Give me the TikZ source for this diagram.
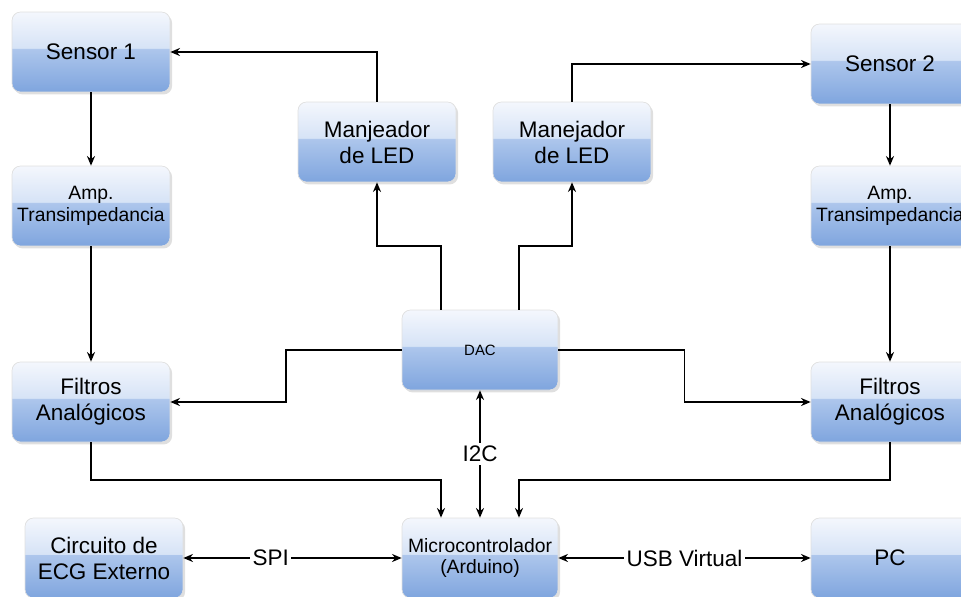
\documentclass[tikz,border=0pt]{standalone}
\usepackage{fontspec}
\setmainfont{Liberation Sans}
\usetikzlibrary{arrows.meta,calc,shadows}
\definecolor{glossTop}{HTML}{F4F7FD}
\definecolor{glossMidA}{HTML}{D6E3F6}
\definecolor{glossMidB}{HTML}{ADC6EC}
\definecolor{glossBot}{HTML}{7FA5DE}
\pgfdeclareverticalshading{gloss}{100bp}{color(0bp)=(glossBot); color(25bp)=(glossBot); color(52bp)=(glossMidB); color(52.5bp)=(glossMidA); color(75bp)=(glossTop); color(100bp)=(glossTop)}
\tikzset{
  block/.style={draw=black!12,line width=0.4pt,rectangle,rounded corners=0.17cm,shading=gloss,
    minimum width=3.16cm,minimum height=1.6cm,align=center,inner sep=1pt,
    drop shadow={shadow xshift=1.2pt,shadow yshift=-1.4pt,opacity=0.25},
    font=\fontsize{12.8}{14.8}\selectfont},
  smalltext/.style={font=\fontsize{11}{12.5}\selectfont},
  dactext/.style={font=\fontsize{8.5}{10}\selectfont},
  lbl/.style={fill=white,inner sep=1.5pt,font=\fontsize{12.8}{14.8}\selectfont}
}

\begin{document}
\begin{tikzpicture}[x=0.02cm,y=-0.02cm,>={Stealth[length=5.5pt,width=4.6pt]},line width=0.75pt]
  \clip (0,0) rectangle (961,596);

  \node[block] (s1) at (91,52) {Sensor 1};
  \node[block] (ledL) at (377,142) {Manjeador\\de LED};
  \node[block] (ledR) at (572,142) {Manejador\\de LED};
  \node[block] (s2) at (890,64) {Sensor 2};
  \node[block,smalltext] (ampL) at (91,206) {Amp.\\Transimpedancia};
  \node[block,smalltext] (ampR) at (890,206) {Amp.\\Transimpedancia};
  \node[block] (fL) at (91,402) {Filtros\\Analógicos};
  \node[block,dactext,minimum width=3.12cm] (dac) at (480,350) {DAC};
  \node[block] (fR) at (890,402) {Filtros\\Analógicos};
  \node[block] (ecg) at (104,558) {Circuito de\\ECG Externo};
  \node[block,smalltext,minimum width=3.12cm] (mcu) at (480,558) {Microcontrolador\\(Arduino)};
  \node[block] (pc) at (890,558) {PC};

  \coordinate (dacNL) at ($(dac.north)+(-39,0)$);
  \coordinate (dacNR) at ($(dac.north)+(39,0)$);
  \coordinate (mcuNL) at ($(mcu.north)+(-39,0)$);
  \coordinate (mcuNR) at ($(mcu.north)+(39,0)$);

  \draw[->] (ledL.north) |- (s1.east);
  \draw[->] (ledR.north) |- (s2.west);
  \draw[->] (s1.south) -- (ampL.north);
  \draw[->] (ampL.south) -- (fL.north);
  \draw[->] (s2.south) -- (ampR.north);
  \draw[->] (ampR.south) -- (fR.north);

  \draw[->] (dacNL) |- ($(dac.north)!0.5!(ledL.south)$) -| (ledL.south);
  \draw[->] (dacNR) |- ($(dac.north)!0.5!(ledR.south)$) -| (ledR.south);
  \draw[->] (dac.west) -| ($(dac.west)!0.5!(fL.east)$) |- (fL.east);
  \draw[->] (dac.east) -| ($(dac.east)!0.5!(fR.west)$) |- (fR.west);

  \draw[->] (fL.south) |- ($(fL.south)!0.5!(mcu.north)$) -| (mcuNL);
  \draw[->] (fR.south) |- ($(fR.south)!0.5!(mcu.north)$) -| (mcuNR);
  \draw[<->] (dac.south) -- node[lbl]{I2C} (mcu.north);
  \draw[<->] (ecg.east) -- node[lbl,pos=0.4]{SPI} (mcu.west);
  \draw[<->] (mcu.east) -- node[lbl]{USB Virtual} (pc.west);
\end{tikzpicture}
\end{document}
